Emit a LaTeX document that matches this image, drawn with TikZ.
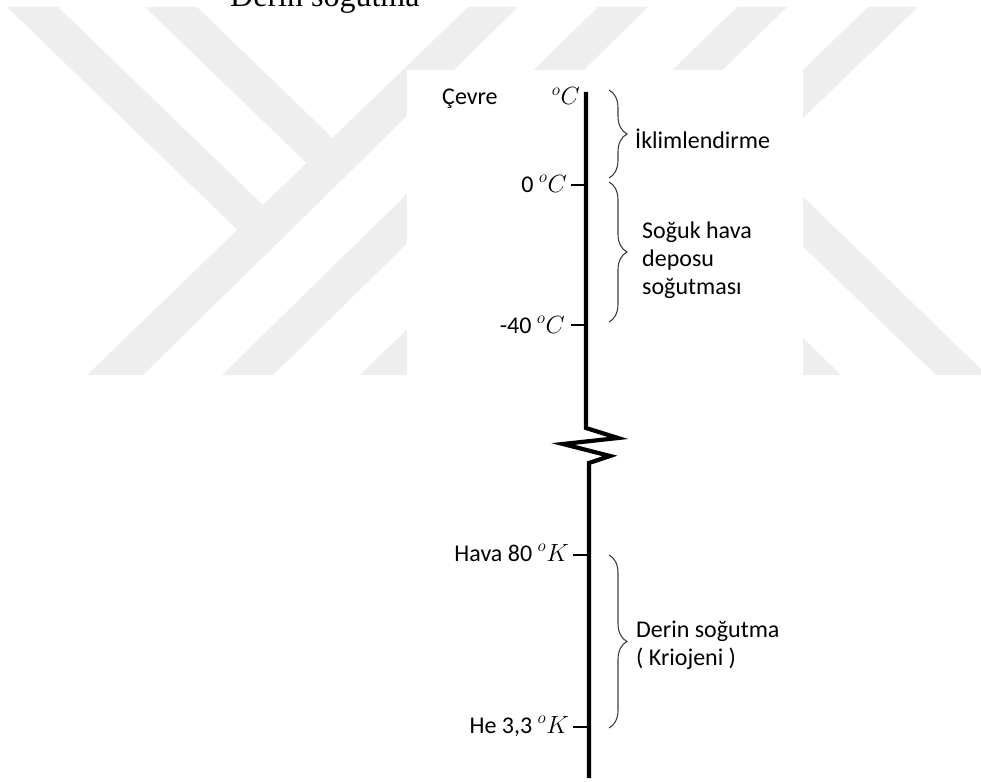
\documentclass[tikz,border=0pt]{standalone}
\usepackage{fontspec}
\setmainfont{Carlito}
\newfontfamily\tnr{Liberation Serif}
\usetikzlibrary{decorations.pathreplacing}
\definecolor{wm}{RGB}{238,238,238}
\begin{document}
\begin{tikzpicture}[x=1pt,y=-1pt,
  wmark/.style={fill=wm, draw=none},
  axisline/.style={line width=4.2pt, line join=miter, line cap=butt},
  tickline/.style={line width=1.3pt},
  lab/.style={font=\fontsize{24}{28}\selectfont, inner sep=0pt, text=black},
  titlefont/.style={font=\tnr\fontsize{32}{38}\selectfont, inner sep=0pt},
  bracestyle/.style={decorate, decoration={brace, amplitude=18pt}, line width=1.1pt, draw=black!75}]
\useasboundingbox (0,0) rectangle (981,781);
\clip (0,0) rectangle (981,781);
% watermark
\fill[wmark] (7,7) -- (58,7) -- (278.5,220) -- (253,245) -- cycle;
\fill[wmark] (145,7) -- (197,7) -- (348,153) -- (322,178) -- cycle;
\fill[wmark] (87,375) -- (143,375) -- (518,7) -- (468,7) -- cycle;
\fill[wmark] (222,375) -- (273,375) -- (648,7) -- (598,7) -- cycle;
\fill[wmark] (360,375) -- (411,375) -- (787,7) -- (737,7) -- cycle;
\fill[wmark] (487,375) -- (537,375) -- (918,7) -- (868,7) -- cycle;
\fill[wmark] (790,184) -- (987,375) -- (936,375) -- (790,234) -- cycle;
\fill[wmark] (790,325) -- (841,375) -- (790,375) -- cycle;
\fill[white] (407,70) rectangle (803,380);
% title (cut off at the top edge, as in the source page)
\node[titlefont, anchor=base west] (bullet) at (182,7) {•};
\node[titlefont, anchor=base west] (title) at (230,7) {Derin soğutma};
% axis
\coordinate (top) at (586,92);
\coordinate (z0) at (586,428);
\coordinate (z1) at (618,438);
\coordinate (z2) at (563,444);
\coordinate (z3) at (610,456);
\coordinate (z4) at (589,463);
\coordinate (bot) at (589,778);
\draw[axisline] (top) -- (z0) -- (z1) -- (z2) -- (z3) -- (z4) -- (bot);
% labels
\node[lab, anchor=base west] (cevre) at (442,105) {Çevre};
\node[lab, anchor=base east] (degC) at (580,105) {$^{o}C$};
\node[lab, anchor=base east] (l0) at (567,192) {0 $^{o}C$};
\node[lab, anchor=base east] (l40) at (565,333) {-40 $^{o}C$};
\node[lab, anchor=base east] (l80) at (569,561) {Hava 80 $^{o}K$};
\node[lab, anchor=base east] (l33) at (569,733) {He 3,3 $^{o}K$};
% ticks
\coordinate (a0) at (586,185);
\coordinate (a40) at (586,325);
\coordinate (a80) at (589,555);
\coordinate (a33) at (589,727);
\draw[tickline] (a0 -| l0.east) ++(4,0) -- (a0);
\draw[tickline] (a40 -| l40.east) ++(6,0) -- (a40);
\draw[tickline] (a80 -| l80.east) ++(4,0) -- (a80);
\draw[tickline] (a33 -| l33.east) ++(4,0) -- (a33);
% braces
\coordinate (b1s) at (609,90);
\coordinate (b1e) at (609,178);
\coordinate (b2s) at (609,182);
\coordinate (b2e) at (609,322);
\coordinate (b3s) at (609,555);
\coordinate (b3e) at (609,728);
\draw[bracestyle] (b1s) -- (b1e);
\draw[bracestyle] (b2s) -- (b2e);
\draw[bracestyle] (b3s) -- (b3e);
% range labels
\node[lab, anchor=base west] (ikl) at (635,148) {İklimlendirme};
\node[lab, anchor=base west, align=left] (soguk) at (642,294) {Soğuk hava\\deposu\\soğutması};
\node[lab, anchor=base west, align=left] (derin) at (636,665) {Derin soğutma\\( Kriojeni )};
\end{tikzpicture}
\end{document}
